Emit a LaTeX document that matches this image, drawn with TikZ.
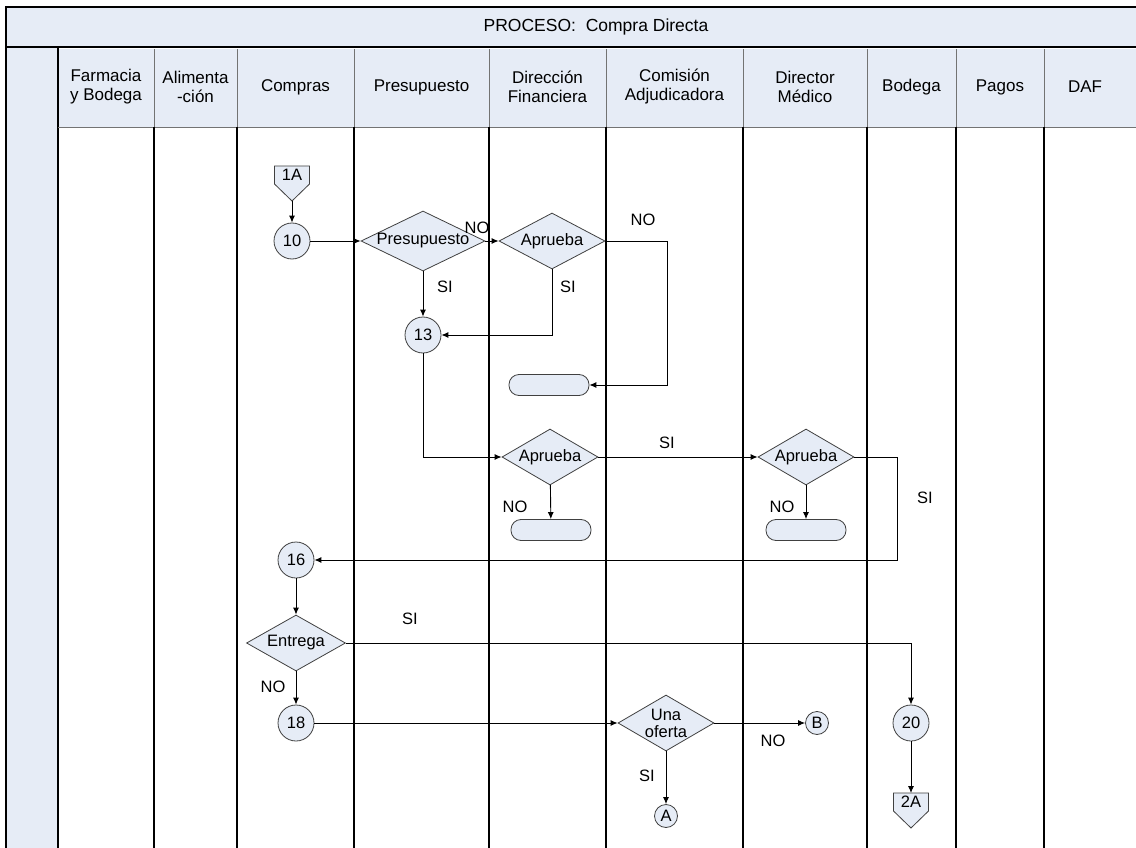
\documentclass[tikz,border=0pt]{standalone}
\usepackage{fontspec}
\setmainfont{Liberation Sans}
\usepackage{tikz}
\usetikzlibrary{arrows.meta,shapes.geometric}

\definecolor{lane}{HTML}{E6ECF6}
\definecolor{edgegray}{HTML}{404040}

\tikzset{
  flow/.style={draw, line width=0.9pt, -{Latex[length=7pt,width=6pt]}},
  shapeline/.style={draw=edgegray, fill=lane, line width=0.8pt},
  dec/.style={diamond, shapeline, inner sep=0pt},
  conn/.style={circle, shapeline, inner sep=0pt, minimum size=36pt},
  onpage/.style={circle, shapeline, inner sep=0pt, minimum size=23pt},
  term/.style={rectangle, shapeline, rounded corners=10pt, minimum width=80pt, minimum height=21pt},
  pent/.style={shapeline},
  lbl/.style={inner sep=0pt},
  lanehead/.style={align=center, font=\fontsize{17}{19}\selectfont},
  headline/.style={draw=black!55, line width=0.8pt},
  laneline/.style={draw=black, line width=1.2pt}
}
\newcommand{\dtext}[1]{\makebox[0pt]{#1}}

\begin{document}
\begin{tikzpicture}[x=1pt, y=-1pt, font=\fontsize{16.5}{19}\selectfont]
  \useasboundingbox (0,0) rectangle (1136,848);

  % lanes
  \fill[lane] (6,7) rectangle (1136,47);
  \fill[lane] (6,47) rectangle (58,848);
  \fill[lane] (58,49) rectangle (1136,127);
  \draw[laneline] (1136,7) -- (6,7) -- (6,848);
  \draw[laneline] (6,47) -- (1136,47);
  \draw[laneline] (58,47) -- (58,848);
  \draw[headline] (58,127) -- (1136,127);
  \foreach \x in {154,237,354,489,606,743,867,956,1044} {
    \draw[headline] (\x,49) -- (\x,127);
    \draw[laneline] (\x,127) -- (\x,848);
  }

  \node[font=\fontsize{17.5}{20}\selectfont] (title) at (596,27) {PROCESO:\ \ Compra Directa};
  \foreach \x/\t in {106/{Farmacia\\y Bodega}, 195.5/{Alimenta\\-ción}, 295.5/Compras,
      421.5/Presupuesto, 547.5/{Dirección\\Financiera}, 674.5/{Comisión\\Adjudicadora},
      805/{Director\\Médico}, 911.5/Bodega, 1000/Pagos, 1085/DAF}
    \node[lanehead] at (\x,87) {\t};

  % off-page connectors
  \coordinate (p1a) at (292,201);
  \draw[pent] (274.5,166) -- (309.5,166) -- (309.5,184) -- (p1a) -- (274.5,184) -- cycle;
  \node (c1a) at (292,175) {1A};
  \coordinate (t2a) at (911,793);
  \draw[pent] (893.5,793) -- (928.5,793) -- (928.5,811) -- (911,828) -- (893.5,811) -- cycle;
  \node (c2a) at (911,802) {2A};

  % nodes
  \node[conn] (n10) at (292,241) {10};
  \node[dec, minimum width=124pt, minimum height=60pt] (presu) at (423,241) {\dtext{Presupuesto}};
  \node[dec, minimum width=106pt, minimum height=56pt] (ap1) at (552,241) {\dtext{Aprueba}};
  \node[conn] (n13) at (423,335) {13};
  \node[term] (end1) at (549,385) {};
  \node[dec, minimum width=96pt, minimum height=56pt] (ap2) at (550,457) {\dtext{Aprueba}};
  \node[term] (end2) at (551,530) {};
  \node[dec, minimum width=96pt, minimum height=56pt] (ap3) at (806,457) {\dtext{Aprueba}};
  \node[term] (end3) at (806,530) {};
  \node[conn] (n16) at (296,560) {16};
  \node[dec, minimum width=99pt, minimum height=56pt] (entrega) at (296,643) {\dtext{Entrega}};
  \node[conn] (n18) at (296,723) {18};
  \node[dec, minimum width=96pt, minimum height=56pt] (una) at (666,723) {\dtext{\shortstack{Una\\[2pt]oferta}}};
  \node[onpage] (nB) at (817,723) {B};
  \node[onpage] (nA) at (666,816) {A};
  \node[conn] (n20) at (911,723) {20};

  \coordinate (k1) at (667,241);
  \coordinate (k3) at (897,560);

  % connectors
  \draw[flow] (p1a) -- (n10);
  \draw[flow] (n10) -- (presu);
  \draw[flow] (presu) -- (ap1);
  \draw[flow] (presu) -- (n13);
  \draw[flow] (ap1.south) |- (n13);
  \draw[flow] (ap1.east) -- (k1) |- (end1);
  \draw[flow] (n13) |- (ap2);
  \draw[flow] (ap2) -- (end2);
  \draw[flow] (ap2) -- (ap3);
  \draw[flow] (ap3) -- (end3);
  \draw[flow] (ap3.east) -| (k3) -- (n16);
  \draw[flow] (n16) -- (entrega);
  \draw[flow] (entrega) -- (n18);
  \draw[flow] (entrega) -| (n20);
  \draw[flow] (n18) -- (una);
  \draw[flow] (una) -- (nB);
  \draw[flow] (una) -- (nA);
  \draw[flow] (n20) -- (t2a);

  % labels
  \node[lbl] (no1) at (477,228) {NO};
  \node[lbl] (no2) at (643,220) {NO};
  \node[lbl] (si1) at (445,287) {SI};
  \node[lbl] (si2) at (568,287) {SI};
  \node[lbl] (no3) at (515,507) {NO};
  \node[lbl] (si3) at (667,443) {SI};
  \node[lbl] (no4) at (782,507) {NO};
  \node[lbl] (si4) at (925,498) {SI};
  \node[lbl] (si5) at (410,619) {SI};
  \node[lbl] (no5) at (273,687) {NO};
  \node[lbl] (no6) at (773,741) {NO};
  \node[lbl] (si6) at (647,776) {SI};
\end{tikzpicture}
\end{document}
